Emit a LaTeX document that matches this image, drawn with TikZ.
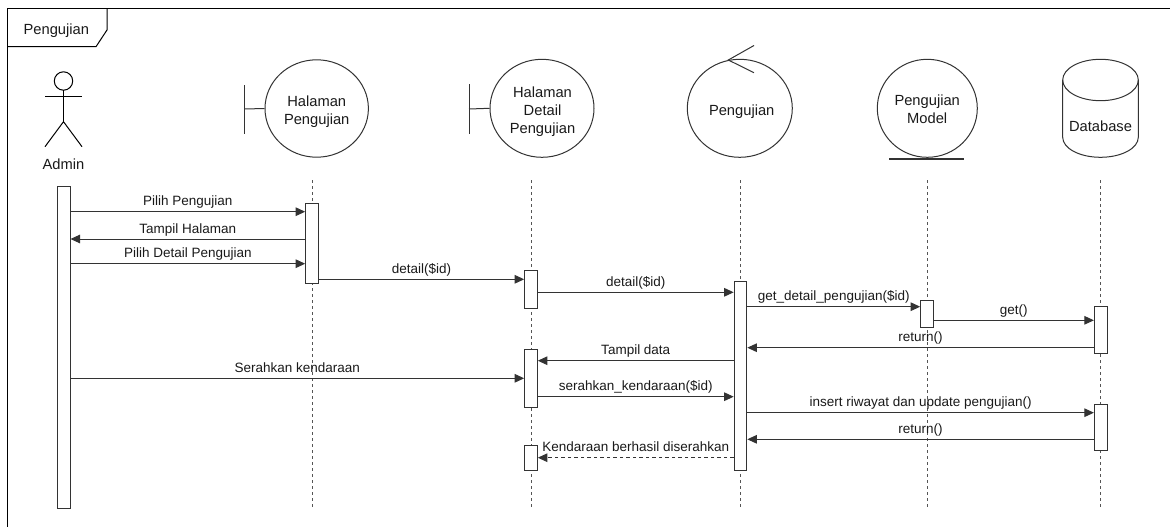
\documentclass[tikz,border=0pt]{standalone}
\usepackage{fontspec}
\setmainfont{Liberation Sans}
\usetikzlibrary{arrows.meta,shapes.geometric}
\definecolor{lc}{HTML}{333333}
\definecolor{tc}{HTML}{1A1A1A}
\definecolor{llc}{HTML}{555555}
\begin{document}
\begin{tikzpicture}[x=1pt,y=-1pt,
  shape line/.style={draw=lc, line width=1pt},
  headell/.style={ellipse, draw=lc, line width=1pt, inner sep=0pt},
  nlabel/.style={font=\fontsize{14.7}{18}\selectfont, text=tc, align=center, inner sep=0pt},
  mlabel/.style={font=\fontsize{13.5}{16}\selectfont, text=tc, inner sep=0pt, anchor=base, yshift=6pt, midway},
  actbar/.style={rectangle, draw=lc, fill=white, line width=1pt, minimum width=12.6pt, inner sep=0pt},
  lifeline/.style={draw=llc, line width=1pt, dash pattern=on 3pt off 3pt},
  msg/.style={draw=lc, line width=1pt, -{Triangle[length=9.5pt,width=8.5pt]}},
  retmsg/.style={msg, dash pattern=on 3.5pt off 3pt}]
\useasboundingbox (0,0) rectangle (1170,527);
\fill[white] (0,0) rectangle (1170,527);

% frame
\draw[shape line, draw=black] (1170,9) -- (7,9) -- (7,527);
\draw[shape line, draw=black] (7,46.7) -- (96,46.7) -- (107,30) -- (107,9);
\node[nlabel] (tabL) at (56.3,30.8) {Pengujian};

% actor
\draw[shape line, draw=black] (63.5,81) circle[radius=9.2];
\draw[shape line, draw=black] (63.5,90.2) -- (63.5,121.7);
\draw[shape line, draw=black] (45,96.7) -- (82,96.7);
\draw[shape line, draw=black] (45,146.7) -- (63.5,121.7) -- (82,146.7);
\node[nlabel] (adL) at (63.5,164) {Admin};

% boundary: Halaman Pengujian
\node[headell, minimum width=103.4pt, minimum height=97.4pt] (hpC) at (316.7,108.5) {};
\draw[shape line] (244.5,85) -- (244.5,134);
\draw[shape line] (244.5,109) -- (hpC.west);
\node[nlabel] (hpL) at (316.7,111.5) {Halaman\\Pengujian};

% boundary: Halaman Detail Pengujian
\node[headell, minimum width=104pt, minimum height=98pt] (hdC) at (542,108.3) {};
\draw[shape line] (469,84) -- (469,134);
\draw[shape line] (469,109) -- (hdC.west);
\node[nlabel] (hdL) at (542.5,112) {Halaman\\Detail\\Pengujian};

% control: Pengujian
\node[headell, minimum width=105pt, minimum height=98pt] (pgC) at (739.8,108.3) {};
\draw[shape line] (754,45.5) -- (728.3,60) -- (754,72.7);
\node[nlabel] (pgL) at (741.7,111.5) {Pengujian};

% entity: Pengujian Model
\node[headell, minimum width=100pt, minimum height=98pt] (mdC) at (927.3,108.3) {};
\draw[shape line, line width=1.3pt] (889.3,159) -- (964,159);
\node[nlabel] (mdL) at (927.2,109.5) {Pengujian\\Model};

% database
\draw[shape line] (1062.7,80) -- (1062.7,137.3) arc[start angle=180, end angle=0, x radius=37.8, y radius=20] -- (1138.3,80);
\draw[shape line] (1100.5,80) ellipse[x radius=37.8, y radius=20.7];
\node[nlabel] (dbL) at (1100.5,126) {Database};

% lifelines
\coordinate (hpT) at (312,180);   \coordinate (hpE) at (312,508);
\coordinate (hdT) at (531,180);   \coordinate (hdE) at (531,508);
\coordinate (pgT) at (740.5,180); \coordinate (pgE) at (740.5,508);
\coordinate (mdT) at (927,180);   \coordinate (mdE) at (927,508);
\coordinate (dbT) at (1100.7,180);\coordinate (dbE) at (1100.7,508);
\draw[lifeline] (hpT) -- (hpE);
\draw[lifeline] (hdT) -- (hdE);
\draw[lifeline] (pgT) -- (pgE);
\draw[lifeline] (mdT) -- (mdE);
\draw[lifeline] (dbT) -- (dbE);

% activation bars
\node[actbar, minimum height=322pt] (adB) at (63.7,347) {};
\node[actbar, minimum height=80pt] (hpB) at (312,243.3) {};
\node[actbar, minimum height=37.6pt] (hdB1) at (531,289.5) {};
\node[actbar, minimum height=58.4pt] (hdB2) at (531,378.5) {};
\node[actbar, minimum height=25pt] (hdB3) at (531,457.5) {};
\node[actbar, minimum height=188.3pt] (pgB) at (740.5,375.85) {};
\node[actbar, minimum height=26.3pt] (mdB) at (927,313.85) {};
\node[actbar, minimum height=46.6pt] (dbB1) at (1100.7,330) {};
\node[actbar, minimum height=46.3pt] (dbB2) at (1100.7,427.15) {};

% messages
\draw[msg] (adB.east |- 0,211.7) -- (hpB.west |- 0,211.7) node[mlabel] {Pilih Pengujian};
\draw[msg] (hpB.west |- 0,239) -- (adB.east |- 0,239) node[mlabel] {Tampil Halaman};
\draw[msg] (adB.east |- 0,263.7) -- (hpB.west |- 0,263.7) node[mlabel] {Pilih Detail Pengujian};
\draw[msg] (hpB.east |- 0,279.3) -- (hdB1.west |- 0,279.3) node[mlabel] {detail(\$id)};
\draw[msg] (hdB1.east |- 0,292.3) -- (pgB.west |- 0,292.3) node[mlabel] {detail(\$id)};
\draw[msg] (pgB.east |- 0,306.7) -- (mdB.west |- 0,306.7) node[mlabel] {get\_detail\_pengujian(\$id)};
\draw[msg] (mdB.east |- 0,320.3) -- (dbB1.west |- 0,320.3) node[mlabel] {get()};
\draw[msg] (dbB1.west |- 0,347.7) -- (pgB.east |- 0,347.7) node[mlabel] {return()};
\draw[msg] (pgB.west |- 0,360.7) -- (hdB2.east |- 0,360.7) node[mlabel] {Tampil data};
\draw[msg] (adB.east |- 0,378.3) -- (hdB2.west |- 0,378.3) node[mlabel] {Serahkan kendaraan};
\draw[msg] (hdB2.east |- 0,396.7) -- (pgB.west |- 0,396.7) node[mlabel] {serahkan\_kendaraan(\$id)};
\draw[msg] (pgB.east |- 0,412.7) -- (dbB2.west |- 0,412.7) node[mlabel] {insert riwayat dan update pengujian()};
\draw[msg] (dbB2.west |- 0,439.3) -- (pgB.east |- 0,439.3) node[mlabel] {return()};
\draw[retmsg] (pgB.west |- 0,457.7) -- (hdB3.east |- 0,457.7) node[mlabel] {Kendaraan berhasil diserahkan};
\end{tikzpicture}
\end{document}
